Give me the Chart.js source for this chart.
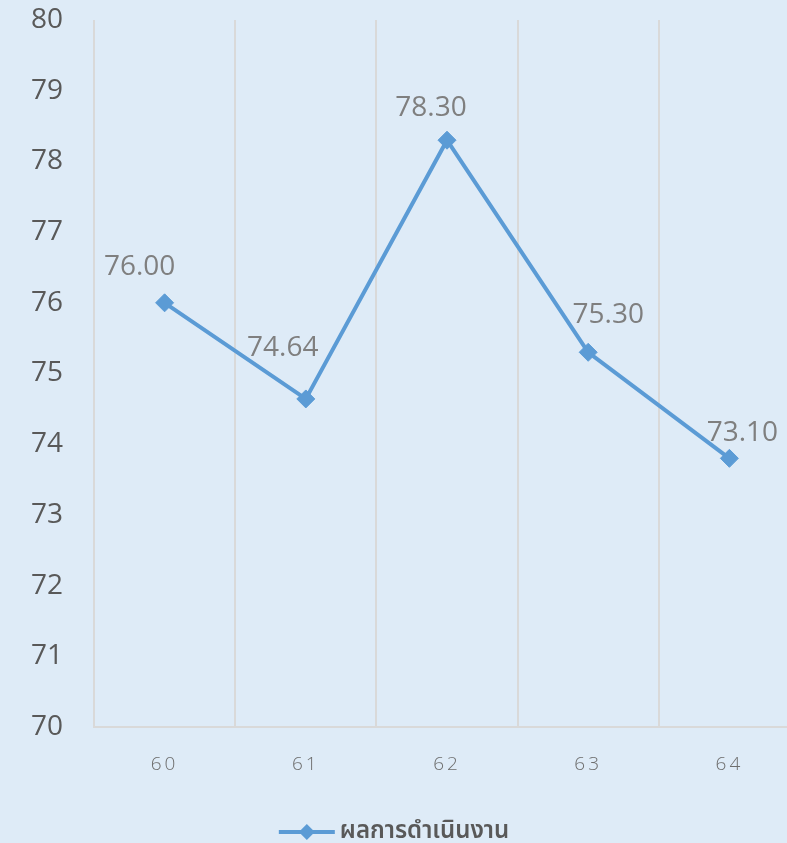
<!DOCTYPE html>
<html>
<head>
<meta charset="utf-8">
<script src="https://cdn.jsdelivr.net/npm/chart.js@4"></script>
<style>
  html, body { margin: 0; padding: 0; background: #deebf7; overflow: hidden; }
  #wrap { width: 810px; height: 843px; }
</style>
</head>
<body>
<div id="wrap"><canvas id="c" width="810" height="843"></canvas></div>
<script>
const categories = ['60', '61', '62', '63', '64'];
const seriesName = 'ผลการดำเนินงาน';
const values = [76.00, 74.64, 78.30, 75.30, 73.80];
const valueLabels = ['76.00', '74.64', '78.30', '75.30', '73.10'];
const yTicks = [70, 71, 72, 73, 74, 75, 76, 77, 78, 79, 80];

const BLUE = '#5b9bd5';
const FONT = "'Open Sans', 'Noto Sans', sans-serif";
const THAI_FONT = "'Noto Sans Thai', 'Noto Sans Thai UI', 'Noto Sans', 'DejaVu Sans', sans-serif";

const labelPlugin = {
  id: 'valueLabels',
  afterDatasetsDraw(chart, args, opts) {
    const ctx = chart.ctx;
    const meta = chart.getDatasetMeta(0);
    ctx.save();
    ctx.font = '28px ' + FONT;
    ctx.fillStyle = '#7f7f7f';
    ctx.textAlign = 'center';
    ctx.textBaseline = 'middle';
    meta.data.forEach((pt, i) => {
      const off = opts.offsets[i] || [0, -30];
      ctx.fillText(valueLabels[i], pt.x + off[0], pt.y + off[1]);
    });
    ctx.restore();
  }
};

const legendPlugin = {
  id: 'customLegend',
  afterDraw(chart, args, opts) {
    const ctx = chart.ctx;
    const ds = chart.data.datasets[0];
    ctx.save();
    ctx.font = '600 24px ' + THAI_FONT;
    const text = ds.label;
    const tw = ctx.measureText(text).width;
    const lineW = 56, gap = 5;
    const total = lineW + gap + tw;
    const x0 = opts.centerX - total / 2;
    const y = opts.y;
    ctx.strokeStyle = BLUE;
    ctx.lineWidth = 4;
    ctx.beginPath();
    ctx.moveTo(x0, y);
    ctx.lineTo(x0 + lineW, y);
    ctx.stroke();
    ctx.fillStyle = BLUE;
    const cx = x0 + lineW / 2, r = 8;
    ctx.beginPath();
    ctx.moveTo(cx, y - r); ctx.lineTo(cx + r, y); ctx.lineTo(cx, y + r); ctx.lineTo(cx - r, y); ctx.closePath();
    ctx.fill();
    ctx.fillStyle = '#595959';
    ctx.textAlign = 'left';
    ctx.textBaseline = 'middle';
    ctx.fillText(text, x0 + lineW + gap, y + 1);
    ctx.restore();
  }
};

function spacedLabels(scale) {
  if (scale._spaced) return;
  const orig = scale.drawLabels.bind(scale);
  scale.drawLabels = function (area) {
    const ctx = this.ctx;
    const prev = ctx.letterSpacing;
    ctx.letterSpacing = '3px';
    orig(area);
    ctx.letterSpacing = prev || '0px';
  };
  scale._spaced = true;
}

new Chart(document.getElementById('c'), {
  type: 'line',
  data: {
    labels: categories,
    datasets: [{
      label: seriesName,
      data: values,
      borderColor: BLUE,
      backgroundColor: BLUE,
      borderWidth: 4,
      pointStyle: 'rectRot',
      pointRadius: 9,
      pointHoverRadius: 9,
      pointBackgroundColor: BLUE,
      pointBorderColor: BLUE,
      pointBorderWidth: 1,
      tension: 0,
      fill: false
    }]
  },
  options: {
    responsive: false,
    animation: false,
    devicePixelRatio: 1,
    layout: { padding: { top: 20, right: 10, bottom: 0, left: 0 } },
    plugins: {
      legend: { display: false },
      tooltip: { enabled: false },
      valueLabels: { offsets: [[-25, -36], [-23, -51], [-16, -32], [20, -37], [13, -25]] },
      customLegend: { centerX: 394, y: 832 }
    },
    scales: {
      x: {
        offset: true,
        grid: { offset: true, color: '#d9d9d9', lineWidth: 2, drawTicks: false },
        border: { display: true, color: '#d9d9d9', width: 2 },
        ticks: { color: '#6d6d6d', font: { family: FONT, size: 19, weight: '300' }, padding: 26 },
        afterFit(scale) { scale.height = 116; scale.paddingLeft = 0; scale.paddingRight = 0; spacedLabels(scale); }
      },
      y: {
        min: 70,
        max: 80,
        afterBuildTicks(scale) { scale.ticks = yTicks.map(v => ({ value: v })); },
        grid: { display: false, drawTicks: false },
        border: { display: false },
        ticks: { color: '#595959', font: { family: FONT, size: 28 }, padding: 31 },
        afterFit(scale) { scale.width = 94; scale.paddingTop = 0; scale.paddingBottom = 0; }
      }
    }
  },
  plugins: [labelPlugin, legendPlugin]
});
</script>
</body>
</html>
